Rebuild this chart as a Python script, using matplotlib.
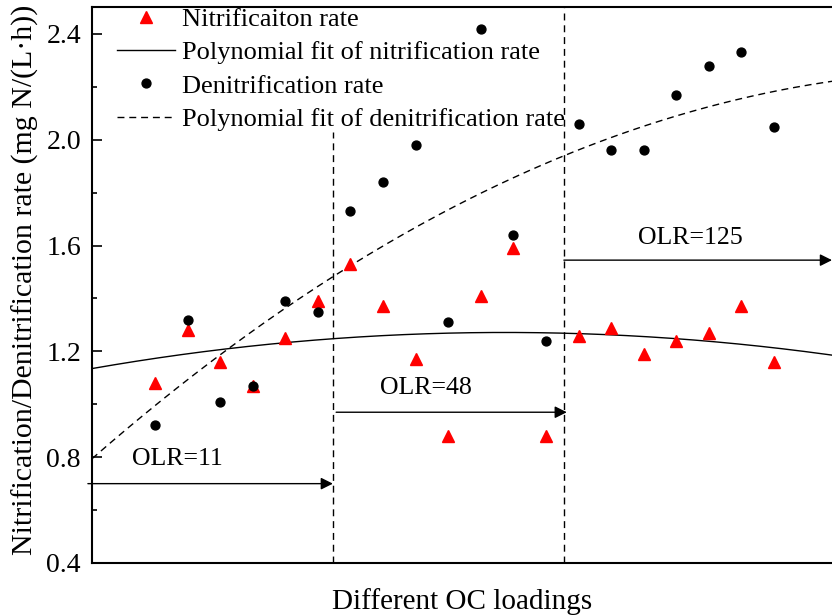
import numpy as np
import matplotlib
matplotlib.use("Agg")
import matplotlib.pyplot as plt
from matplotlib.ticker import MultipleLocator, FormatStrFormatter

plt.rcParams['font.family'] = ['Liberation Serif', 'DejaVu Serif']
plt.rcParams['mathtext.fontset'] = 'stix'

# Sample index along the loading sequence
sample = np.arange(1, 21)

nitrification = [1.08, 1.28, 1.16, 1.07, 1.25, 1.39, 1.53, 1.37, 1.17, 0.88,
                 1.41, 1.59, 0.88, 1.26, 1.29, 1.19, 1.24, 1.27, 1.37, 1.16]
denitrification = [0.92, 1.32, 1.01, 1.07, 1.39, 1.35, 1.73, 1.84, 1.98, 1.31,
                   2.42, 1.64, 1.24, 2.06, 1.96, 1.96, 2.17, 2.28, 2.33, 2.05]

# Phase boundaries and OLR labels
boundaries = [6.46, 13.55]
olr_labels = ["OLR=11", "OLR=48", "OLR=125"]

xmin, xmax = -0.934, 21.78

fig = plt.figure(figsize=(8.32, 6.16), dpi=100)
ax = fig.add_axes([92 / 832, 53 / 616, 740 / 832, 556 / 616])

# Quadratic fits of both rates
xf = np.linspace(xmin, xmax, 300)
nit_fit = np.polyval(np.polyfit(sample, nitrification, 2), xf)
den_fit = np.polyval(np.polyfit(sample, denitrification, 2), xf)

ax.plot(sample, nitrification, linestyle='none', marker='^', ms=8.4,
        color='#ff0000', mec='#ff0000', label='Nitrificaiton rate', zorder=4)
ax.plot(xf, nit_fit, color='k', lw=1.0, label='Polynomial fit of nitrification rate')
ax.plot(sample, denitrification, linestyle='none', marker='o', ms=6.4,
        color='k', label='Denitrification rate', zorder=4)
ax.plot(xf, den_fit, color='k', lw=1.0, linestyle=(0, (5, 3.5)),
        label='Polynomial fit of denitrification rate')

# Vertical phase separators
ax.plot([boundaries[0]] * 2, [0.4, 2.03], color='k', lw=1.0, linestyle=(0, (5, 3.5)))
ax.plot([boundaries[1]] * 2, [0.4, 2.5], color='k', lw=1.0, linestyle=(0, (5, 3.5)))

# Phase arrows and labels
arrow_kw = dict(arrowstyle='-|>', color='k', lw=1.0, mutation_scale=18,
                shrinkA=0, shrinkB=0)
ax.annotate('', xy=(boundaries[0], 0.70), xytext=(-1.06, 0.70),
            arrowprops=arrow_kw, annotation_clip=False)
ax.annotate('', xy=(13.64, 0.97), xytext=(6.56, 0.97),
            arrowprops=arrow_kw, annotation_clip=False)
ax.annotate('', xy=(21.78, 1.545), xytext=(boundaries[1], 1.545),
            arrowprops=arrow_kw, annotation_clip=False)

ax.text(1.68, 0.793, olr_labels[0], ha='center', va='center', fontsize=18.6)
ax.text(9.32, 1.062, olr_labels[1], ha='center', va='center', fontsize=18.6)
ax.text(17.42, 1.629, olr_labels[2], ha='center', va='center', fontsize=18.6)

ax.set_xlim(xmin, xmax)
ax.set_ylim(0.4, 2.502)
ax.set_xticks([])
ax.yaxis.set_major_locator(MultipleLocator(0.4))
ax.yaxis.set_minor_locator(MultipleLocator(0.2))
ax.yaxis.set_major_formatter(FormatStrFormatter('%.1f'))
ax.tick_params(axis='y', which='major', direction='in', length=7.2, width=1.2,
               labelsize=20, pad=8)
ax.tick_params(axis='y', which='minor', direction='in', length=3.6, width=1.2)

for side in ['left', 'bottom', 'top']:
    ax.spines[side].set_linewidth(1.5)
ax.spines['right'].set_visible(False)

ax.set_xlabel('Different OC loadings', fontsize=21, labelpad=18)
ax.set_ylabel('Nitrification/Denitrification rate (mg N/(L·h))', fontsize=21.5)
ax.yaxis.set_label_coords(-0.071, 0.51)

ax.legend(loc='upper left', bbox_to_anchor=(0.034, 0.999), frameon=False,
          fontsize=19, handlelength=2.2, handletextpad=0.27, labelspacing=0.37,
          borderpad=0, borderaxespad=0)

fig.savefig('out.png', dpi=100)
